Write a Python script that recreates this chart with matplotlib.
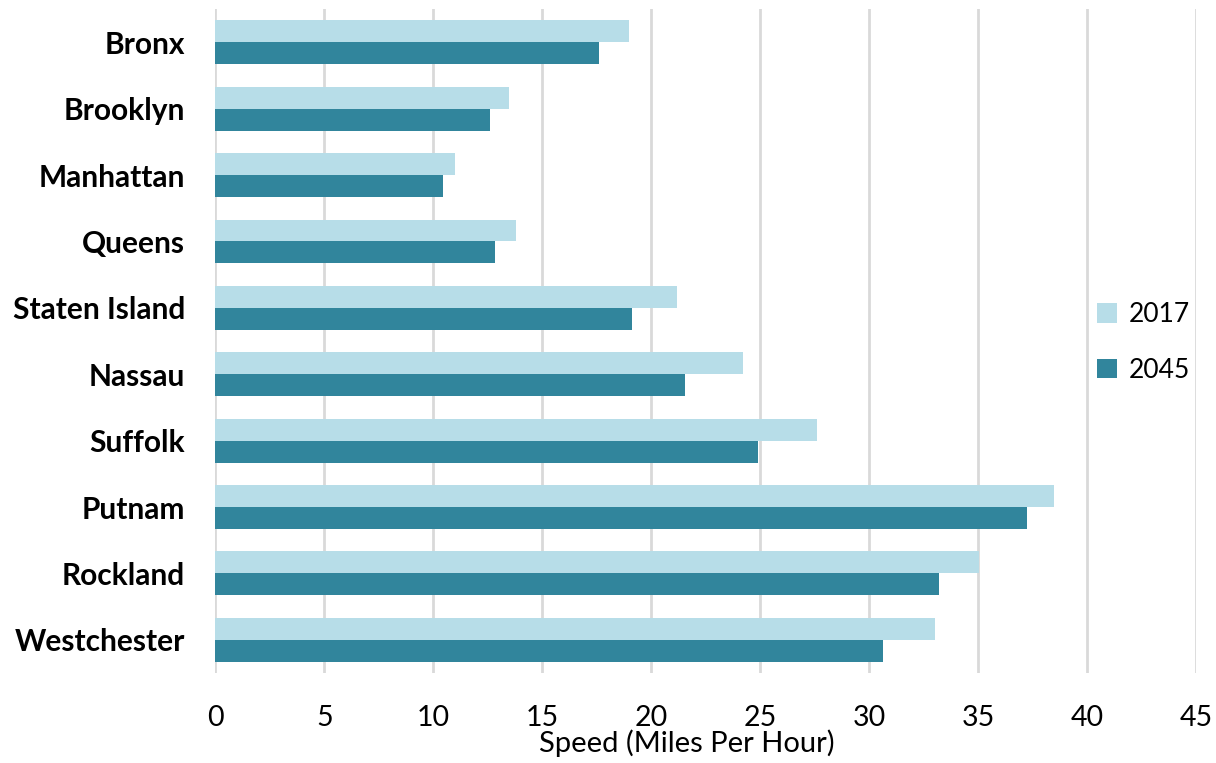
import matplotlib.pyplot as plt
import numpy as np

counties = ['Bronx', 'Brooklyn', 'Manhattan', 'Queens', 'Staten Island',
            'Nassau', 'Suffolk', 'Putnam', 'Rockland', 'Westchester']
speed_2017 = [19.0, 13.5, 11.0, 13.8, 21.2, 24.2, 27.6, 38.5, 35.05, 33.0]
speed_2045 = [17.6, 12.6, 10.45, 12.85, 19.1, 21.55, 24.9, 37.25, 33.2, 30.65]
xticks = [0, 5, 10, 15, 20, 25, 30, 35, 40, 45]

plt.rcParams['font.family'] = ['Lato', 'DejaVu Sans']

fig = plt.figure(figsize=(12.16, 7.63), dpi=100)
ax = fig.add_axes([0.177, 0.118, 0.8066, 0.870])

y = np.arange(len(counties))
h = 0.33
ax.barh(y - h / 2, speed_2017, height=h, color='#B7DDE8', label='2017', zorder=3)
ax.barh(y + h / 2, speed_2045, height=h, color='#31859C', label='2045', zorder=3)

ax.set_ylim(len(counties) - 0.5, -0.5)
ax.set_xlim(0, 45)
ax.set_yticks(y)
ax.set_yticklabels(counties, fontsize=21.5, fontweight='bold')
ax.set_xticks(xticks)
ax.set_xticklabels([str(t) for t in xticks], fontsize=20.5)
ax.tick_params(length=0)
ax.tick_params(axis='y', pad=21.5)
ax.tick_params(axis='x', pad=23)
ax.set_xlabel('Speed (Miles Per Hour)', fontsize=21)
ax.xaxis.set_label_coords(0.481, -0.085)

ax.grid(axis='x', color='#D9D9D9', lw=2, zorder=0)
for s in ax.spines.values():
    s.set_visible(False)

ax.legend(loc='center left', bbox_to_anchor=(0.875, 0.498), frameon=False,
          fontsize=19, handlelength=0.75, handleheight=0.75, labelspacing=1.15,
          handletextpad=0.45)

plt.savefig('out.png')
